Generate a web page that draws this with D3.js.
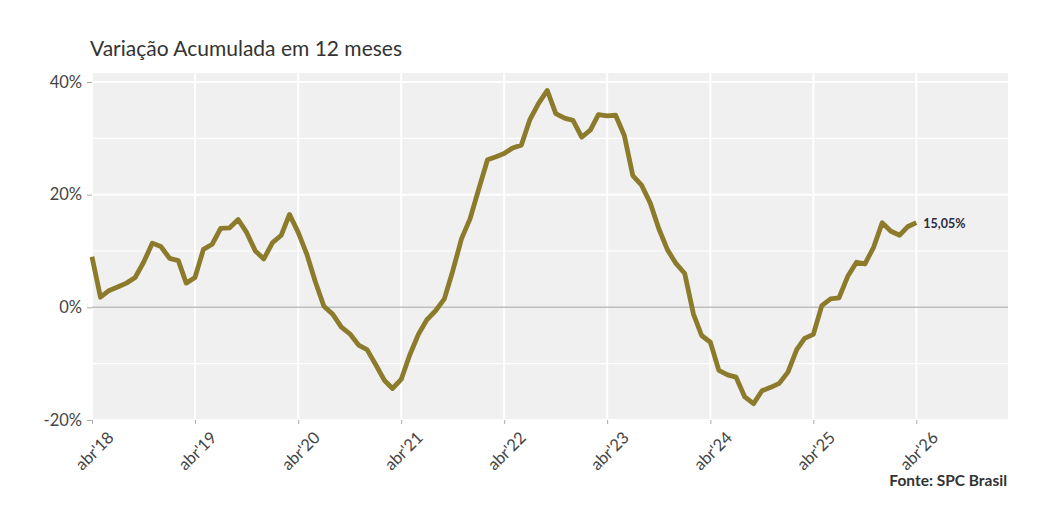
<!DOCTYPE html>
<html>
<head>
<meta charset="utf-8">
<script src="https://cdn.jsdelivr.net/npm/d3@7"></script>
<style>
  body { margin: 0; background: #ffffff; }
  svg { display: block; }
</style>
</head>
<body>
<svg id="chart" width="1048" height="516"></svg>
<script>
// monthly series, abr'18 .. abr'26
const startMonth = new Date(2018, 3, 1);
const values = [
  9.0, 1.8, 3.0, 3.6, 4.3, 5.3, 8.0, 11.4, 10.8, 8.7, 8.3, 4.3,
  5.3, 10.3, 11.2, 14.0, 14.1, 15.6, 13.3, 10.0, 8.6, 11.5, 12.8, 16.5,
  13.3, 9.5, 4.5, 0.2, -1.2, -3.5, -4.7, -6.7, -7.5, -10.2, -13.0, -14.4,
  -12.8, -8.5, -4.8, -2.2, -0.6, 1.5, 6.5, 12.2, 15.7, 21.0, 26.2, 26.7,
  27.3, 28.3, 28.8, 33.3, 36.2, 38.5, 34.4, 33.6, 33.2, 30.2, 31.5, 34.2,
  34.0, 34.1, 30.5, 23.4, 21.7, 18.5, 14.0, 10.2, 7.8, 6.0, -1.2, -5.0,
  -6.2, -11.2, -12.0, -12.4, -15.9, -17.1, -14.8, -14.2, -13.5, -11.5, -7.5, -5.5,
  -4.8, 0.3, 1.5, 1.7, 5.5, 8.0, 7.7, 10.7, 15.0, 13.5, 12.8, 14.3,
  15.05
];
const yTicks = [-20, 0, 20, 40];
const yGrid = [-20, -10, 0, 10, 20, 30, 40];
const xTickYears = [2018, 2019, 2020, 2021, 2022, 2023, 2024, 2025, 2026];

const data = values.map((v, i) => ({
  date: d3.timeMonth.offset(startMonth, i),
  value: v
}));

const svg = d3.select("#chart");
const margin = { top: 73, right: 40, bottom: 96, left: 92 };
const width = 1048 - margin.left - margin.right;
const height = 516 - margin.top - margin.bottom;
const font = "Lato, 'Open Sans', sans-serif";

const x = d3.scaleTime()
  .domain([startMonth, new Date(2027, 1, 20)])
  .range([0, width]);
const y = d3.scaleLinear()
  .domain([-20, 41.6])
  .range([height, 0]);

const g = svg.append("g")
  .attr("transform", `translate(${margin.left},${margin.top})`);

// panel
g.append("rect")
  .attr("width", width)
  .attr("height", height)
  .attr("fill", "#f0f0f0");

g.selectAll(".hgrid")
  .data(yGrid.filter(d => d !== 0))
  .enter().append("line")
  .attr("class", "hgrid")
  .attr("x1", 0)
  .attr("x2", width)
  .attr("y1", d => y(d))
  .attr("y2", d => y(d))
  .attr("stroke", "#ffffff")
  .attr("stroke-width", d => d % 20 === 0 ? 2 : 1.2);

const yearDates = xTickYears.map(yr => new Date(yr, 3, 1));

g.selectAll(".vgrid")
  .data(yearDates)
  .enter().append("line")
  .attr("class", "vgrid")
  .attr("x1", d => x(d))
  .attr("x2", d => x(d))
  .attr("y1", 0)
  .attr("y2", height)
  .attr("stroke", "#ffffff")
  .attr("stroke-width", 2);

// zero line
g.append("line")
  .attr("x1", 0)
  .attr("x2", width)
  .attr("y1", y(0))
  .attr("y2", y(0))
  .attr("stroke", "#bdbdbd")
  .attr("stroke-width", 1.5);

// axes
const yAxis = g.append("g")
  .call(d3.axisLeft(y).tickValues(yTicks).tickSize(5).tickPadding(5)
    .tickFormat(d => d + "%"));
yAxis.select(".domain").remove();
yAxis.selectAll(".tick line").attr("stroke", "#aaaaaa");
yAxis.selectAll(".tick text")
  .attr("fill", "#444444")
  .style("font-family", font)
  .style("font-size", "16.5px");

const xAxis = g.append("g")
  .attr("transform", `translate(0,${height})`)
  .call(d3.axisBottom(x).tickValues(yearDates).tickSize(4).tickPadding(2)
    .tickFormat(d => "abr'" + String(d.getFullYear()).slice(2)));
xAxis.select(".domain").remove();
xAxis.selectAll(".tick line").attr("stroke", "#aaaaaa");
xAxis.selectAll(".tick text")
  .attr("fill", "#444444")
  .style("font-family", font)
  .style("font-size", "16.5px")
  .style("text-anchor", "middle")
  .attr("y", 0)
  .attr("dy", "0.35em")
  .attr("transform", "translate(2,31) rotate(-45)");

// series line
const line = d3.line()
  .x(d => x(d.date))
  .y(d => y(d.value));

g.append("path")
  .datum(data)
  .attr("fill", "none")
  .attr("stroke", "#8b7b2a")
  .attr("stroke-width", 4.8)
  .attr("stroke-linejoin", "round")
  .attr("d", line);

const last = data[data.length - 1];
g.append("text")
  .attr("x", x(last.date) + 7)
  .attr("y", y(last.value) + 5)
  .attr("fill", "#2b2b3f")
  .style("font-family", font)
  .style("font-size", "12.5px")
  .style("font-weight", "bold")
  .text(d3.format(".2f")(last.value).replace(".", ",") + "%");

// title and source
svg.append("text")
  .attr("x", 90)
  .attr("y", 56)
  .attr("fill", "#333333")
  .style("font-family", font)
  .style("font-size", "21px")
  .text("Variação Acumulada em 12 meses");

svg.append("text")
  .attr("x", 1007)
  .attr("y", 486)
  .attr("text-anchor", "end")
  .attr("fill", "#333333")
  .style("font-family", font)
  .style("font-size", "15.5px")
  .style("font-weight", "bold")
  .text("Fonte: SPC Brasil");
</script>
</body>
</html>
